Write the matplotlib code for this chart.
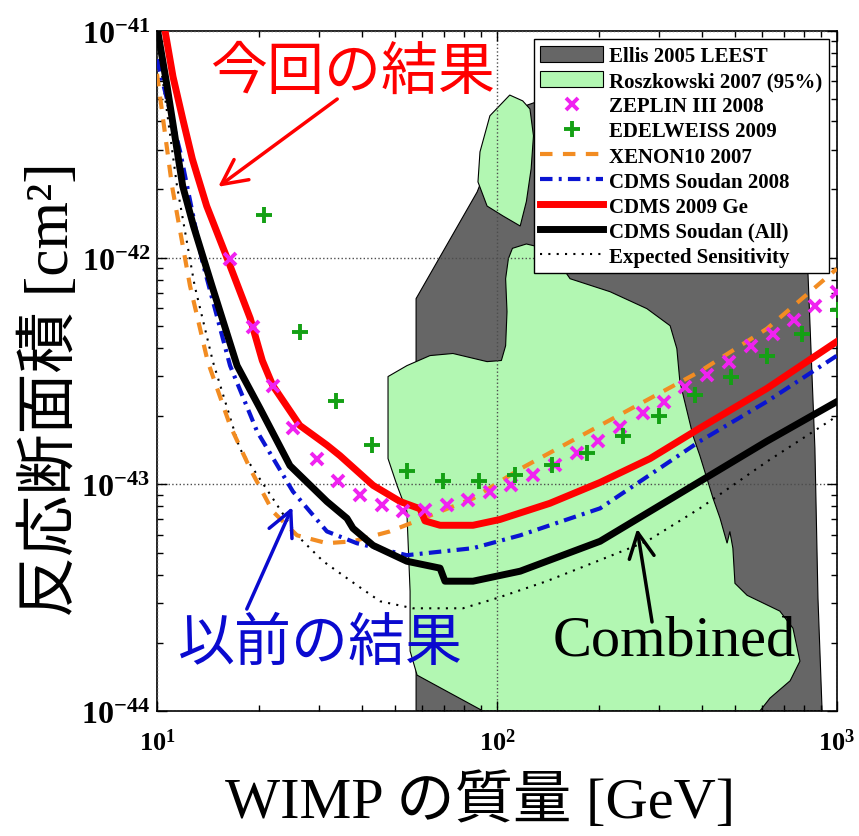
import numpy as np
import matplotlib.pyplot as plt
from matplotlib.patches import Patch
from matplotlib.lines import Line2D
from matplotlib.ticker import FuncFormatter, FixedLocator, LogLocator, NullFormatter

plt.rcParams['mathtext.fontset'] = 'custom'
plt.rcParams['mathtext.rm'] = 'Liberation Serif'
plt.rcParams['mathtext.it'] = 'Liberation Serif:italic'
plt.rcParams['mathtext.bf'] = 'Liberation Serif:bold'

serif_jp = ['Liberation Serif', 'Noto Sans CJK JP']
sans_jp = ['Noto Sans CJK JP', 'DejaVu Sans']

# axis ticks
x_ticks = [10, 100, 1000]
y_ticks = [1e-44, 1e-43, 1e-42, 1e-41]

# Ellis 2005 LEEST (gray region)
ellis_mass = [57.8, 57.8, 87.4, 102, 123, 138, 778, 822, 861, 879, 904]
ellis_sigma = [1e-44, 6.6e-43, 1.95e-42, 3.52e-42, 4.72e-42, 5.01e-42, 5.28e-42,
               8.33e-43, 1.44e-43, 3.15e-44, 1e-44]

# Roszkowski 2007 (95%) - upper blob and lower region
rosz_top_mass = [109, 119, 125, 128, 126, 122, 117, 104, 93.5, 87.9, 89.1, 95.3]
rosz_top_sigma = [5.22e-42, 4.92e-42, 4.53e-42, 3.45e-42, 2.47e-42, 1.77e-42,
                  1.38e-42, 1.53e-42, 1.69e-42, 2.16e-42, 2.93e-42, 4.23e-42]
rosz_low_mass = [111, 122, 138, 153, 164, 215, 276, 323, 338, 345, 377, 395, 432,
                 453, 475, 484, 494, 501, 544, 679, 742, 778, 728, 635, 593,
                 91.0, 71.3, 58.2, 55.5, 55.5, 54.3, 50.8, 47.8, 47.8, 54.3, 63.5,
                 74.2, 93.5, 103, 106, 107, 106, 108]
rosz_low_sigma = [1.10e-42, 1.15e-42, 1.10e-42, 9.4e-43, 8.08e-43, 7.08e-43, 5.96e-43,
                  5.01e-43, 3.97e-43, 2.84e-43, 1.64e-43, 1.34e-43, 8.67e-44,
                  7.08e-44, 5.5e-44, 6.2e-44, 5.23e-44, 3.66e-44, 3.24e-44, 2.76e-44,
                  2.32e-44, 1.66e-44, 1.36e-44, 1.14e-44, 1.0e-44,
                  1.0e-44, 1.22e-44, 1.44e-44, 1.84e-44, 3.38e-44, 7.6e-44, 9.9e-44,
                  1.30e-43, 2.99e-43, 3.34e-43, 3.70e-43, 3.78e-43, 3.48e-43, 3.52e-43,
                  4.09e-43, 5.78e-43, 8.08e-43, 9.9e-43]

# ZEPLIN III 2008
zeplin_mass = [16.4, 19.2, 21.9, 25.1, 29.6, 34.1, 39.6, 45.9, 52.9, 61.4, 71.3, 82.2,
               95.3, 110, 128, 148, 172, 198, 230, 269, 310, 357, 415, 481, 558,
               648, 747, 861, 1000]
zeplin_sigma = [9.9e-43, 4.97e-43, 2.73e-43, 1.77e-43, 1.30e-43, 1.03e-43, 8.95e-44,
                8.07e-44, 7.6e-44, 7.68e-44, 8.07e-44, 8.5e-44, 9.3e-44, 9.9e-44,
                1.10e-43, 1.22e-43, 1.38e-43, 1.56e-43, 1.80e-43, 2.06e-43, 2.32e-43,
                2.70e-43, 3.05e-43, 3.48e-43, 4.06e-43, 4.62e-43, 5.33e-43, 6.15e-43,
                7.08e-43]

# EDELWEISS 2009
edel_mass = [20.6, 26.3, 33.6, 42.9, 54.3, 69.4, 88.5, 113, 145, 184, 235, 299, 382,
             488, 622, 789, 1005]
edel_sigma = [1.55e-42, 4.72e-43, 2.34e-43, 1.49e-43, 1.15e-43, 1.04e-43, 1.03e-43,
              1.10e-43, 1.22e-43, 1.38e-43, 1.64e-43, 2.0e-43, 2.47e-43, 2.99e-43,
              3.70e-43, 4.62e-43, 5.85e-43]

# XENON10 2007
xenon_mass = [10.0, 11.07, 12.5, 14.1, 16.4, 18.8, 21.9, 25.8, 31.6, 37.7, 48.4, 60.6,
              85.0, 117, 201, 395, 622, 1000]
xenon_sigma = [6.47e-42, 2.07e-42, 7.53e-43, 3.48e-43, 1.82e-43, 1.17e-43, 7.6e-44,
               5.96e-44, 5.5e-44, 5.61e-44, 6.2e-44, 7.08e-44, 8.67e-44, 1.17e-43,
               1.82e-43, 3.15e-43, 4.86e-43, 8.95e-43]

# CDMS Soudan 2008
cdms08_mass = [10.0, 11.7, 13.6, 16.4, 19.7, 25.1, 31.6, 38.7, 54.3, 85.0, 117, 201,
               395, 622, 1000]
cdms08_sigma = [7.5e-42, 2.93e-42, 9.6e-43, 3.34e-43, 1.71e-43, 9.3e-44, 6.2e-44,
                5.5e-44, 4.87e-44, 5.23e-44, 5.96e-44, 7.84e-44, 1.55e-43, 2.32e-43,
                3.70e-43]

# CDMS 2009 Ge
cdms09_mass = [10.5, 11.14, 11.9, 12.7, 13.1, 14.0, 16.1, 18.8, 20.4, 21.9, 26.3, 31.6,
               34.5, 43.2, 51.9, 59.4, 61.4, 68.0, 85.0, 102, 143, 201, 282, 395, 622,
               1000]
cdms09_sigma = [1.05e-41, 6.3e-42, 4.1e-42, 2.73e-42, 2.34e-42, 1.69e-42, 9.9e-43,
                5.4e-43, 3.52e-43, 2.73e-43, 1.82e-43, 1.49e-43, 1.34e-43, 9.9e-44,
                8.4e-44, 7.8e-44, 6.9e-44, 6.6e-44, 6.6e-44, 7.0e-44, 8.25e-44,
                1.02e-43, 1.30e-43, 1.77e-43, 2.65e-43, 4.27e-43]

# CDMS Soudan (All)
all_mass = [10.0, 10.7, 11.9, 12.8, 14.5, 17.2, 20.1, 24.6, 31.6, 36.2, 37.7, 43.2,
            54.3, 68.0, 70.3, 85.0, 117, 201, 395, 622, 1000]
all_sigma = [1.04e-41, 5.73e-42, 2.07e-42, 1.38e-42, 7.53e-43, 3.34e-43, 2.16e-43,
             1.21e-43, 8.4e-44, 7.08e-44, 6.4e-44, 5.38e-44, 4.58e-44, 4.27e-44,
             3.74e-44, 3.74e-44, 4.14e-44, 5.61e-44, 1.03e-43, 1.55e-43, 2.32e-43]

# Expected Sensitivity
exp_mass = [10.2, 11.45, 12.9, 14.6, 17.5, 21.9, 25.8, 30.8, 38.7, 45.3, 56.6, 79.4,
            100, 140, 197, 276, 395, 622, 1000]
exp_sigma = [7.5e-42, 2.07e-42, 7.53e-43, 3.48e-43, 1.44e-43, 8.67e-44, 5.96e-44,
             4.58e-44, 3.59e-44, 3.05e-44, 2.84e-44, 2.84e-44, 3.15e-44, 3.74e-44,
             4.58e-44, 5.61e-44, 7.84e-44, 1.26e-43, 2.0e-43]

gray = '#666666'
lgreen = '#b2f7b2'
c_zeplin = '#f022f0'
c_edel = '#14a014'
c_xenon = '#f28c22'
c_cdms08 = '#0a14d2'

fig = plt.figure(figsize=(8.59, 8.37), dpi=100)
ax = fig.add_axes([0.1828, 0.1493, 0.7916, 0.8124])

ax.fill(ellis_mass, ellis_sigma, facecolor=gray, edgecolor='black', linewidth=0.8, zorder=1)
ax.fill(rosz_low_mass, rosz_low_sigma, facecolor=lgreen, edgecolor='black', linewidth=0.8, zorder=1.2)
ax.fill(rosz_top_mass, rosz_top_sigma, facecolor=lgreen, edgecolor='black', linewidth=0.8, zorder=1.2)

ax.plot(exp_mass, exp_sigma, color='black', linestyle=(0, (1, 3)), linewidth=1.5, zorder=3)
ax.plot(xenon_mass, xenon_sigma, color=c_xenon, linestyle=(0, (3, 2.5)), linewidth=3, zorder=3)
ax.plot(cdms08_mass, cdms08_sigma, color=c_cdms08, linestyle=(0, (3, 1.5, 0.7, 1.5)), linewidth=3, zorder=3)
ax.plot(all_mass, all_sigma, color='black', linewidth=5, zorder=3.2)
ax.plot(cdms09_mass, cdms09_sigma, color='red', linewidth=5, zorder=3.3)
ax.plot(zeplin_mass, zeplin_sigma, linestyle='none', marker='x', color=c_zeplin,
        markersize=9, markeredgewidth=2.8, zorder=4)
ax.plot(edel_mass, edel_sigma, linestyle='none', marker='+', color=c_edel,
        markersize=11, markeredgewidth=2.8, zorder=4)

ax.set_xscale('log')
ax.set_yscale('log')
ax.set_xlim(10, 1000)
ax.set_ylim(1e-44, 1e-41)

ax.xaxis.set_major_locator(FixedLocator(x_ticks))
ax.yaxis.set_major_locator(FixedLocator(y_ticks))
ax.xaxis.set_minor_locator(LogLocator(base=10, subs=np.arange(2, 10), numticks=10))
ax.yaxis.set_minor_locator(LogLocator(base=10, subs=np.arange(2, 10), numticks=10))
fmt = FuncFormatter(lambda v, pos: r'$\mathbf{10^{%d}}$' % int(round(np.log10(v))))
ax.xaxis.set_major_formatter(fmt)
ax.yaxis.set_major_formatter(fmt)
ax.xaxis.set_minor_formatter(NullFormatter())
ax.yaxis.set_minor_formatter(NullFormatter())
ax.tick_params(which='both', direction='in', top=True, right=True, width=1)
ax.tick_params(which='major', length=7)
ax.tick_params(which='minor', length=4)
ax.tick_params(axis='x', which='major', pad=13, labelsize=19)
ax.tick_params(axis='y', which='major', pad=5, labelsize=23)
for s in ax.spines.values():
    s.set_linewidth(1.2)

ax.set_axisbelow(False)
ax.grid(True, which='major', linestyle=':', color='0.3', linewidth=1.0)

ax.set_xlabel('WIMP の質量 [GeV]', family=serif_jp, fontsize=42)
ax.xaxis.set_label_coords(0.475, -0.09)
ax.xaxis.label.set_va('top')
ax.set_ylabel('反応断面積 [cm²]', family=serif_jp, fontsize=44)
ax.yaxis.set_label_coords(-0.112, 0.474)

# annotations
ax.text(0.287, 0.941, '今回の結果', transform=ax.transAxes, color='red',
        fontsize=41, family=sans_jp, ha='center', va='center', zorder=6)
ax.annotate('', xy=(0.09, 0.771), xytext=(0.265, 0.9), xycoords='axes fraction',
            arrowprops=dict(arrowstyle='->,head_length=0.6,head_width=0.3', color='red',
                            lw=2.5, mutation_scale=30, shrinkA=0, shrinkB=0), zorder=6)
ax.text(0.24, 0.101, '以前の結果', transform=ax.transAxes, color='#0a0acf',
        fontsize=41, family=sans_jp, ha='center', va='center', zorder=6)
ax.annotate('', xy=(0.199, 0.30), xytext=(0.132, 0.15), xycoords='axes fraction',
            arrowprops=dict(arrowstyle='->,head_length=0.6,head_width=0.3', color='#0a0acf',
                            lw=2.5, mutation_scale=30, shrinkA=0, shrinkB=0), zorder=6)
ax.text(0.76, 0.104, 'Combined', transform=ax.transAxes, color='black',
        fontsize=42, family='Liberation Serif', ha='center', va='center', zorder=6)
ax.annotate('', xy=(0.706, 0.268), xytext=(0.728, 0.131), xycoords='axes fraction',
            arrowprops=dict(arrowstyle='->,head_length=0.6,head_width=0.3', color='black',
                            lw=2.5, mutation_scale=30, shrinkA=0, shrinkB=0), zorder=6)

handles = [
    Patch(facecolor=gray, edgecolor='black', linewidth=0.8),
    Patch(facecolor=lgreen, edgecolor='black', linewidth=0.8),
    Line2D([], [], linestyle='none', marker='x', color=c_zeplin, markersize=9, markeredgewidth=2.8),
    Line2D([], [], linestyle='none', marker='+', color=c_edel, markersize=11, markeredgewidth=2.8),
    Line2D([], [], color=c_xenon, linestyle=(0, (3, 2.5)), linewidth=3),
    Line2D([], [], color=c_cdms08, linestyle=(0, (3, 1.5, 0.7, 1.5)), linewidth=3),
    Line2D([], [], color='red', linewidth=5),
    Line2D([], [], color='black', linewidth=5),
    Line2D([], [], color='black', linestyle=(0, (1, 3)), linewidth=1.5),
]
labels = ['Ellis 2005 LEEST', 'Roszkowski 2007 (95%)', 'ZEPLIN III 2008', 'EDELWEISS 2009',
          'XENON10 2007', 'CDMS Soudan 2008', 'CDMS 2009 Ge', 'CDMS Soudan (All)',
          'Expected Sensitivity']
leg = ax.legend(handles, labels, loc='upper right',
                prop={'family': 'Liberation Serif', 'weight': 'bold', 'size': 15},
                frameon=True, fancybox=False, edgecolor='black', framealpha=1,
                borderpad=0.3, labelspacing=0.22, handlelength=3.0, handleheight=0.85,
                handletextpad=0.3, borderaxespad=0.4)
leg.get_frame().set_linewidth(1.0)
leg.set_zorder(7)

plt.savefig('out.png', dpi=100)
